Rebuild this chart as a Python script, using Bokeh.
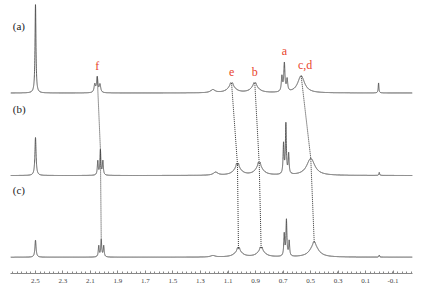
import numpy as np
from bokeh.plotting import figure
from bokeh.models import Range1d, FixedTicker
from bokeh.core.properties import value
from bokeh.embed import file_html
from bokeh.resources import INLINE

# ---------------- data ----------------
spectrum_names = ["(a)", "(b)", "(c)"]

# peak lists per spectrum: chemical shift (ppm), height, half-width (ppm)
a_ppm = [2.500, 2.069, 2.051, 2.031, 1.210, 1.074, 1.081, 1.067, 0.905, 0.912, 0.898,
         0.708, 0.690, 0.670, 0.568, 0.005]
a_hgt = [88.5, 8.0, 15.0, 8.0, 3.0, 8.0, 2.0, 2.0, 8.0, 2.0, 2.0,
         15.0, 28.0, 12.0, 17.0, 10.0]
a_wid = [0.004, 0.006, 0.006, 0.006, 0.02, 0.03, 0.005, 0.005, 0.03, 0.005, 0.005,
         0.005, 0.005, 0.005, 0.03, 0.003]

b_ppm = [2.500, 2.047, 2.028, 2.010, 1.190, 1.031, 1.038, 1.024, 0.873, 0.880, 0.866,
         0.696, 0.679, 0.659, 0.498, 0.000]
b_hgt = [38.0, 14.0, 25.0, 14.0, 3.0, 9.0, 3.0, 3.0, 10.0, 3.0, 3.0,
         30.0, 50.0, 20.0, 17.0, 3.0]
b_wid = [0.005, 0.004, 0.004, 0.004, 0.02, 0.03, 0.004, 0.004, 0.03, 0.004, 0.004,
         0.004, 0.004, 0.004, 0.035, 0.003]

c_ppm = [2.500, 2.040, 2.022, 2.004, 1.210, 1.024, 1.031, 1.017, 0.859, 0.866, 0.852,
         0.691, 0.675, 0.655, 0.473, 0.478, 0.468, 0.000]
c_hgt = [17.0, 11.0, 17.0, 11.0, 1.5, 7.0, 2.5, 2.5, 7.5, 2.5, 2.5,
         22.0, 36.0, 15.0, 13.0, 2.0, 2.0, 2.0]
c_wid = [0.005, 0.004, 0.004, 0.004, 0.02, 0.03, 0.004, 0.004, 0.03, 0.004, 0.004,
         0.004, 0.004, 0.004, 0.035, 0.005, 0.005, 0.003]

# assigned signals followed across the three spectra
assign_labels = ["f", "e", "b", "a", "c,d"]
assign_ppm = {
    "f": [2.051, 2.028, 2.022],
    "e": [1.074, 1.031, 1.024],
    "b": [0.905, 0.873, 0.859],
    "a": [0.690, 0.679, 0.675],
    "c,d": [0.568, 0.498, 0.473],
}
traced = ["f", "e", "b", "c,d"]

tick_values = [2.5, 2.3, 2.1, 1.9, 1.7, 1.5, 1.3, 1.1, 0.9, 0.7, 0.5, 0.3, 0.1, -0.1]
tick_labels = ["2.5", "2.3", "2.1", "1.9", "1.7", "1.5", "1.3", "1.1", "0.9", "0.7",
               "0.5", "0.3", "0.1", "-0.1"]

# ---------------- layout / style ----------------
baselines = [92.5, 175.0, 256.7]   # vertical offset of each trace (px from top)
XMAX, XMIN = 2.6818, -0.2418
line_col = "#4d4d4d"
red = "#e8452c"
serif = "serif"

p = figure(width=425, height=291, x_range=Range1d(XMAX, XMIN), y_range=Range1d(-273, 0),
           output_backend="svg", toolbar_location=None, y_axis_location=None,
           min_border_left=10, min_border_right=13, min_border_top=0, min_border_bottom=18)
p.grid.visible = False
p.outline_line_color = None
p.background_fill_color = "white"
p.border_fill_color = "white"

x = np.linspace(XMIN, XMAX, 8000)


def spectrum(ppm, hgt, wid, xs):
    y = np.zeros_like(xs)
    for c, h, w in zip(ppm, hgt, wid):
        y += h * w * w / ((xs - c) ** 2 + w * w)
    return y

peak_sets = [(a_ppm, a_hgt, a_wid), (b_ppm, b_hgt, b_wid), (c_ppm, c_hgt, c_wid)]
for (pp, hh, ww), base in zip(peak_sets, baselines):
    y = spectrum(pp, hh, ww, x)
    p.line(x, y - base, line_color=line_col, line_width=0.9)

# dotted correlation lines through the peak tops
for lab in traced:
    xs, ys = [], []
    for i, (pp, hh, ww) in enumerate(peak_sets):
        c = assign_ppm[lab][i]
        xs.append(c)
        ys.append(spectrum(pp, hh, ww, np.array([c]))[0] - baselines[i])
    p.line(xs, ys, line_color="#333333", line_width=1, line_dash="1 1")

# peak labels over the top trace
label_dx = {"f": 0, "e": 0, "b": 0, "a": 0, "c,d": 4}
lx, ly, lt, ldx = [], [], [], []
for lab in assign_labels:
    c = assign_ppm[lab][0]
    top = spectrum(a_ppm, a_hgt, a_wid, np.array([c]))[0] - baselines[0]
    lx.append(c)
    ly.append(top + 11)
    lt.append(lab)
    ldx.append(label_dx[lab])
p.text(x=lx, y=ly, text=lt, x_offset=ldx, text_color=red, text_font=value(serif),
       text_font_size="12px", text_align="center", text_baseline="middle")

# spectrum names
p.text(x=[2.665] * 3, y=[-b + 67 for b in baselines], text=spectrum_names,
       text_color="#222222", text_font=value(serif), text_font_size="11px",
       text_align="left", text_baseline="middle")

# x axis
minor = list(np.arange(-0.2333, 2.68, 0.2 / 6))
p.xaxis.ticker = FixedTicker(ticks=tick_values, minor_ticks=minor)
p.xaxis.major_label_overrides = {v: s for v, s in zip(tick_values, tick_labels)}
p.xaxis.axis_line_color = "#888888"
p.xaxis.major_tick_line_color = "#888888"
p.xaxis.minor_tick_line_color = "#888888"
p.xaxis.major_tick_in = 3
p.xaxis.major_tick_out = 0
p.xaxis.minor_tick_in = 2
p.xaxis.minor_tick_out = 0
p.xaxis.major_label_standoff = 5
p.xaxis.major_label_text_font = serif
p.xaxis.major_label_text_font_size = "7px"
p.xaxis.major_label_text_color = "#444444"

open("out.html", "w").write(file_html(p, INLINE))
